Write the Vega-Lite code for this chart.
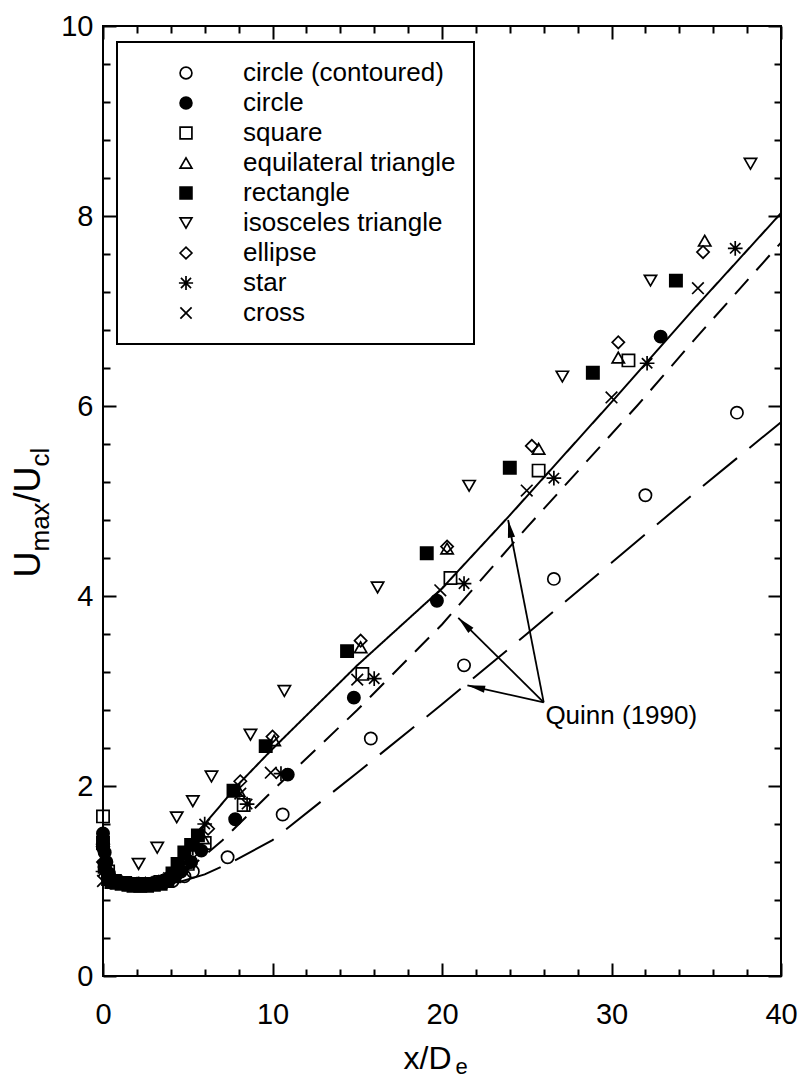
{
  "$schema": "https://vega.github.io/schema/vega-lite/v6.json",
  "width": 678,
  "height": 950,
  "autosize": {"type": "none"},
  "padding": {"left": 103, "top": 26, "right": 25, "bottom": 103},
  "config": {
    "view": {"stroke": "black", "strokeWidth": 2},
    "font": "Liberation Sans",
    "axis": {"domain": false, "grid": false, "labelFont": "Liberation Sans", "labelFontSize": 29, "labelColor": "black", "tickColor": "black", "tickWidth": 2, "titleFont": "Liberation Sans", "titleFontWeight": "normal", "titleColor": "black"},
    "legend": {"strokeWidth": 2}
  },
  "datasets": {
    "curves": [
      {"curve": "solid", "x": 3.0, "y": 0.98}, {"curve": "solid", "x": 4.0, "y": 1.05}, {"curve": "solid", "x": 5.0, "y": 1.27}, {"curve": "solid", "x": 6.0, "y": 1.6}, {"curve": "solid", "x": 8.0, "y": 2.02}, {"curve": "solid", "x": 10.0, "y": 2.39}, {"curve": "solid", "x": 15.0, "y": 3.27}, {"curve": "solid", "x": 20.0, "y": 4.08}, {"curve": "solid", "x": 24.0, "y": 4.85}, {"curve": "solid", "x": 30.1, "y": 6.06}, {"curve": "solid", "x": 35.0, "y": 7.05}, {"curve": "solid", "x": 40.0, "y": 8.03},
      {"curve": "short", "x": 3.0, "y": 0.97}, {"curve": "short", "x": 4.0, "y": 1.02}, {"curve": "short", "x": 5.0, "y": 1.12}, {"curve": "short", "x": 7.0, "y": 1.42}, {"curve": "short", "x": 10.0, "y": 1.95}, {"curve": "short", "x": 15.0, "y": 2.8}, {"curve": "short", "x": 20.0, "y": 3.7}, {"curve": "short", "x": 25.0, "y": 4.72}, {"curve": "short", "x": 31.5, "y": 6.0}, {"curve": "short", "x": 35.0, "y": 6.72}, {"curve": "short", "x": 40.0, "y": 7.72},
      {"curve": "long", "x": 4.5, "y": 0.99}, {"curve": "long", "x": 6.0, "y": 1.07}, {"curve": "long", "x": 7.5, "y": 1.19}, {"curve": "long", "x": 10.0, "y": 1.43}, {"curve": "long", "x": 15.0, "y": 2.14}, {"curve": "long", "x": 20.0, "y": 2.86}, {"curve": "long", "x": 25.0, "y": 3.6}, {"curve": "long", "x": 30.0, "y": 4.35}, {"curve": "long", "x": 35.0, "y": 5.1}, {"curve": "long", "x": 40.0, "y": 5.83}
    ],
    "pts": [
      {"s": "circle (contoured)", "x": 0, "y": 1.35}, {"s": "circle (contoured)", "x": 0.3, "y": 1.05}, {"s": "circle (contoured)", "x": 0.8, "y": 1.0}, {"s": "circle (contoured)", "x": 1.5, "y": 0.98}, {"s": "circle (contoured)", "x": 2.3, "y": 0.97}, {"s": "circle (contoured)", "x": 3.2, "y": 0.98}, {"s": "circle (contoured)", "x": 4.1, "y": 1.0}, {"s": "circle (contoured)", "x": 4.8, "y": 1.05}, {"s": "circle (contoured)", "x": 5.3, "y": 1.1}, {"s": "circle (contoured)", "x": 7.35, "y": 1.25}, {"s": "circle (contoured)", "x": 10.6, "y": 1.7}, {"s": "circle (contoured)", "x": 15.8, "y": 2.5}, {"s": "circle (contoured)", "x": 21.3, "y": 3.27}, {"s": "circle (contoured)", "x": 26.6, "y": 4.18}, {"s": "circle (contoured)", "x": 32.0, "y": 5.06}, {"s": "circle (contoured)", "x": 37.4, "y": 5.93},
      {"s": "circle", "x": 0, "y": 1.5}, {"s": "circle", "x": 0.1, "y": 1.3}, {"s": "circle", "x": 0.2, "y": 1.2}, {"s": "circle", "x": 0.35, "y": 1.08}, {"s": "circle", "x": 0.5, "y": 1.02}, {"s": "circle", "x": 0.7, "y": 1.0}, {"s": "circle", "x": 1.0, "y": 0.99}, {"s": "circle", "x": 1.3, "y": 0.98}, {"s": "circle", "x": 1.6, "y": 0.97}, {"s": "circle", "x": 1.9, "y": 0.96}, {"s": "circle", "x": 2.2, "y": 0.96}, {"s": "circle", "x": 2.5, "y": 0.96}, {"s": "circle", "x": 2.8, "y": 0.97}, {"s": "circle", "x": 3.1, "y": 0.97}, {"s": "circle", "x": 3.4, "y": 0.99}, {"s": "circle", "x": 3.7, "y": 1.0}, {"s": "circle", "x": 4.0, "y": 1.03}, {"s": "circle", "x": 4.3, "y": 1.06}, {"s": "circle", "x": 4.6, "y": 1.1}, {"s": "circle", "x": 5.2, "y": 1.2}, {"s": "circle", "x": 5.8, "y": 1.32}, {"s": "circle", "x": 7.8, "y": 1.65}, {"s": "circle", "x": 10.9, "y": 2.12}, {"s": "circle", "x": 14.8, "y": 2.93}, {"s": "circle", "x": 19.7, "y": 3.95}, {"s": "circle", "x": 32.9, "y": 6.73},
      {"s": "square", "x": 0, "y": 1.68}, {"s": "square", "x": 0.3, "y": 1.1}, {"s": "square", "x": 0.7, "y": 1.0}, {"s": "square", "x": 1.3, "y": 0.98}, {"s": "square", "x": 2.0, "y": 0.97}, {"s": "square", "x": 2.7, "y": 0.97}, {"s": "square", "x": 3.4, "y": 0.99}, {"s": "square", "x": 4.2, "y": 1.05}, {"s": "square", "x": 5.0, "y": 1.18}, {"s": "square", "x": 6.0, "y": 1.4}, {"s": "square", "x": 8.3, "y": 1.8}, {"s": "square", "x": 15.3, "y": 3.18}, {"s": "square", "x": 20.5, "y": 4.19}, {"s": "square", "x": 25.7, "y": 5.32}, {"s": "square", "x": 31.0, "y": 6.48},
      {"s": "equilateral triangle", "x": 0, "y": 1.45}, {"s": "equilateral triangle", "x": 0.4, "y": 1.05}, {"s": "equilateral triangle", "x": 1.0, "y": 0.99}, {"s": "equilateral triangle", "x": 1.7, "y": 0.98}, {"s": "equilateral triangle", "x": 2.5, "y": 0.98}, {"s": "equilateral triangle", "x": 3.3, "y": 1.0}, {"s": "equilateral triangle", "x": 4.1, "y": 1.06}, {"s": "equilateral triangle", "x": 5.0, "y": 1.2}, {"s": "equilateral triangle", "x": 5.9, "y": 1.45}, {"s": "equilateral triangle", "x": 8.0, "y": 1.95}, {"s": "equilateral triangle", "x": 10.1, "y": 2.48}, {"s": "equilateral triangle", "x": 15.2, "y": 3.46}, {"s": "equilateral triangle", "x": 20.3, "y": 4.5}, {"s": "equilateral triangle", "x": 25.7, "y": 5.55}, {"s": "equilateral triangle", "x": 30.4, "y": 6.51}, {"s": "equilateral triangle", "x": 35.5, "y": 7.74},
      {"s": "rectangle", "x": 0, "y": 1.4}, {"s": "rectangle", "x": 0.1, "y": 1.15}, {"s": "rectangle", "x": 0.3, "y": 1.02}, {"s": "rectangle", "x": 0.5, "y": 0.99}, {"s": "rectangle", "x": 0.8, "y": 0.98}, {"s": "rectangle", "x": 1.1, "y": 0.97}, {"s": "rectangle", "x": 1.5, "y": 0.96}, {"s": "rectangle", "x": 1.8, "y": 0.95}, {"s": "rectangle", "x": 2.2, "y": 0.95}, {"s": "rectangle", "x": 2.6, "y": 0.95}, {"s": "rectangle", "x": 3.0, "y": 0.96}, {"s": "rectangle", "x": 3.4, "y": 0.97}, {"s": "rectangle", "x": 3.8, "y": 1.0}, {"s": "rectangle", "x": 4.1, "y": 1.08}, {"s": "rectangle", "x": 4.4, "y": 1.18}, {"s": "rectangle", "x": 4.8, "y": 1.3}, {"s": "rectangle", "x": 5.2, "y": 1.38}, {"s": "rectangle", "x": 5.6, "y": 1.48}, {"s": "rectangle", "x": 7.7, "y": 1.95}, {"s": "rectangle", "x": 9.6, "y": 2.42}, {"s": "rectangle", "x": 14.4, "y": 3.42}, {"s": "rectangle", "x": 19.1, "y": 4.45}, {"s": "rectangle", "x": 24.0, "y": 5.35}, {"s": "rectangle", "x": 28.9, "y": 6.35}, {"s": "rectangle", "x": 33.8, "y": 7.32},
      {"s": "isosceles triangle", "x": 0, "y": 1.3}, {"s": "isosceles triangle", "x": 0.5, "y": 1.0}, {"s": "isosceles triangle", "x": 1.2, "y": 0.98}, {"s": "isosceles triangle", "x": 2.1, "y": 1.18}, {"s": "isosceles triangle", "x": 3.2, "y": 1.35}, {"s": "isosceles triangle", "x": 4.35, "y": 1.67}, {"s": "isosceles triangle", "x": 5.3, "y": 1.84}, {"s": "isosceles triangle", "x": 6.4, "y": 2.1}, {"s": "isosceles triangle", "x": 8.7, "y": 2.54}, {"s": "isosceles triangle", "x": 10.7, "y": 3.0}, {"s": "isosceles triangle", "x": 16.2, "y": 4.09}, {"s": "isosceles triangle", "x": 21.6, "y": 5.16}, {"s": "isosceles triangle", "x": 27.1, "y": 6.31}, {"s": "isosceles triangle", "x": 32.3, "y": 7.32}, {"s": "isosceles triangle", "x": 38.2, "y": 8.55},
      {"s": "ellipse", "x": 0, "y": 1.2}, {"s": "ellipse", "x": 0.4, "y": 1.0}, {"s": "ellipse", "x": 1.1, "y": 0.98}, {"s": "ellipse", "x": 2.0, "y": 0.97}, {"s": "ellipse", "x": 2.9, "y": 0.98}, {"s": "ellipse", "x": 3.7, "y": 1.02}, {"s": "ellipse", "x": 4.5, "y": 1.1}, {"s": "ellipse", "x": 5.3, "y": 1.3}, {"s": "ellipse", "x": 6.2, "y": 1.55}, {"s": "ellipse", "x": 8.1, "y": 2.05}, {"s": "ellipse", "x": 10.0, "y": 2.52}, {"s": "ellipse", "x": 15.2, "y": 3.53}, {"s": "ellipse", "x": 20.3, "y": 4.52}, {"s": "ellipse", "x": 25.3, "y": 5.58}, {"s": "ellipse", "x": 30.4, "y": 6.67}, {"s": "ellipse", "x": 35.4, "y": 7.62},
      {"s": "star", "x": 0, "y": 1.1}, {"s": "star", "x": 0.5, "y": 0.99}, {"s": "star", "x": 1.3, "y": 0.97}, {"s": "star", "x": 2.1, "y": 0.97}, {"s": "star", "x": 3.0, "y": 0.98}, {"s": "star", "x": 3.8, "y": 1.02}, {"s": "star", "x": 4.6, "y": 1.15}, {"s": "star", "x": 5.3, "y": 1.35}, {"s": "star", "x": 6.0, "y": 1.6}, {"s": "star", "x": 8.5, "y": 1.81}, {"s": "star", "x": 10.5, "y": 2.13}, {"s": "star", "x": 16.0, "y": 3.13}, {"s": "star", "x": 21.3, "y": 4.13}, {"s": "star", "x": 26.6, "y": 5.24}, {"s": "star", "x": 32.1, "y": 6.45}, {"s": "star", "x": 37.3, "y": 7.66},
      {"s": "cross", "x": 0, "y": 1.0}, {"s": "cross", "x": 0.6, "y": 0.98}, {"s": "cross", "x": 1.4, "y": 0.97}, {"s": "cross", "x": 2.3, "y": 0.97}, {"s": "cross", "x": 3.1, "y": 0.98}, {"s": "cross", "x": 3.9, "y": 1.03}, {"s": "cross", "x": 4.7, "y": 1.15}, {"s": "cross", "x": 5.6, "y": 1.4}, {"s": "cross", "x": 8.1, "y": 1.92}, {"s": "cross", "x": 9.9, "y": 2.14}, {"s": "cross", "x": 15.0, "y": 3.12}, {"s": "cross", "x": 19.9, "y": 4.06}, {"s": "cross", "x": 25.0, "y": 5.11}, {"s": "cross", "x": 30.0, "y": 6.09}, {"s": "cross", "x": 35.1, "y": 7.24}
    ],
    "arrows": [
      {"x": 26.0, "y": 2.88, "x2": 23.9, "y2": 4.8},
      {"x": 26.0, "y": 2.88, "x2": 20.96, "y2": 3.77},
      {"x": 26.0, "y": 2.88, "x2": 21.5, "y2": 3.06}
    ],
    "notes": [
      {"x": 26.1, "y": 2.74, "label": "Quinn (1990)"}
    ]
  },
  "layer": [
    {
      "data": {"name": "curves"},
      "mark": {"type": "line", "stroke": "black", "strokeWidth": 2},
      "encoding": {
        "x": {"field": "x", "type": "quantitative", "scale": {"domain": [0, 40], "nice": false, "zero": false},
              "axis": {"orient": "bottom", "values": [0, 10, 20, 30, 40], "format": "d", "ticks": false, "labelPadding": 24, "labelFlush": false, "labelOverlap": false,
                       "title": "x/D", "titleFontSize": 32, "titleAlign": "left", "titleBaseline": "alphabetic", "titleX": 300, "titleY": 92}},
        "y": {"field": "y", "type": "quantitative", "scale": {"domain": [0, 10], "nice": false, "zero": false},
              "axis": {"orient": "left", "values": [0, 2, 4, 6, 8, 10], "format": "d", "ticks": false, "labelPadding": 10, "labelOverlap": false,
                       "title": "U", "titleFontSize": 36, "titleAngle": -90, "titleAlign": "left", "titleBaseline": "alphabetic", "titleX": -64, "titleY": 551}},
        "strokeDash": {"field": "curve", "type": "nominal", "scale": {"domain": ["solid", "short", "long"], "range": [[1, 0], [20, 12], [44, 16]]}, "legend": null}
      }
    },
    {
      "data": {"name": "pts"},
      "mark": {"type": "point", "size": 150, "strokeWidth": 1.7, "opacity": 1},
      "encoding": {
        "x": {"field": "x", "type": "quantitative",
              "axis": {"orient": "bottom", "values": [0, 2, 4, 6, 8, 10, 12, 14, 16, 18, 20, 22, 24, 26, 28, 30, 32, 34, 36, 38, 40], "labels": false,
                       "tickSize": {"condition": {"test": "datum.value % 10 === 0", "value": -13}, "value": -7},
                       "title": "e", "titleFontSize": 22, "titleAlign": "left", "titleBaseline": "alphabetic", "titleX": 352, "titleY": 97}},
        "y": {"field": "y", "type": "quantitative",
              "axis": {"orient": "left", "values": [0, 0.4, 0.8, 1.2, 1.6, 2, 2.4, 2.8, 3.2, 3.6, 4, 4.4, 4.8, 5.2, 5.6, 6, 6.4, 6.8, 7.2, 7.6, 8, 8.4, 8.8, 9.2, 9.6, 10], "labels": false,
                       "tickSize": {"condition": {"test": "abs(datum.value - 2 * round(datum.value / 2)) < 0.01", "value": -13}, "value": -7},
                       "title": "max", "titleFontSize": 26, "titleAngle": -90, "titleAlign": "left", "titleBaseline": "alphabetic", "titleX": -55, "titleY": 525}},
        "shape": {"field": "s", "type": "nominal",
                  "scale": {"domain": ["circle (contoured)", "circle", "square", "equilateral triangle", "rectangle", "isosceles triangle", "ellipse", "star", "cross"],
                            "range": ["circle", "circle", "square", "triangle-up", "square", "triangle-down", "diamond", "M0,-1.2L0,1.2M-1.2,0L1.2,0M-0.85,-0.85L0.85,0.85M-0.85,0.85L0.85,-0.85", "M-0.95,-0.95L0.95,0.95M-0.95,0.95L0.95,-0.95"]},
                  "legend": {"title": null, "orient": "none", "legendX": 14, "legendY": 16, "padding": 18, "strokeColor": "black", "fillColor": "white",
                             "symbolSize": 140, "symbolStrokeWidth": 1.7, "symbolOffset": 38, "labelOffset": 44,
                             "labelFontSize": 26, "labelFont": "Liberation Sans", "labelColor": "black", "rowPadding": 4, "labelLimit": 400}},
        "fill": {"field": "s", "type": "nominal",
                 "scale": {"domain": ["circle (contoured)", "circle", "square", "equilateral triangle", "rectangle", "isosceles triangle", "ellipse", "star", "cross"],
                           "range": ["transparent", "black", "transparent", "transparent", "black", "transparent", "transparent", "transparent", "transparent"]},
                 "legend": {"title": null, "orient": "none", "legendX": 14, "legendY": 16, "padding": 18, "strokeColor": "black", "fillColor": "white",
                            "symbolSize": 140, "symbolStrokeWidth": 1.7, "symbolOffset": 38, "labelOffset": 44,
                            "labelFontSize": 26, "labelFont": "Liberation Sans", "labelColor": "black", "rowPadding": 4, "labelLimit": 400}},
        "stroke": {"field": "s", "type": "nominal",
                   "scale": {"domain": ["circle (contoured)", "circle", "square", "equilateral triangle", "rectangle", "isosceles triangle", "ellipse", "star", "cross"],
                             "range": ["black", "black", "black", "black", "black", "black", "black", "black", "black"]},
                   "legend": {"title": null, "orient": "none", "legendX": 14, "legendY": 16, "padding": 18, "strokeColor": "black", "fillColor": "white",
                              "symbolSize": 140, "symbolStrokeWidth": 1.7, "symbolOffset": 38, "labelOffset": 44,
                              "labelFontSize": 26, "labelFont": "Liberation Sans", "labelColor": "black", "rowPadding": 4, "labelLimit": 400}}
      }
    },
    {
      "data": {"name": "arrows"},
      "mark": {"type": "rule", "stroke": "black", "strokeWidth": 1.8},
      "encoding": {
        "x": {"field": "x", "type": "quantitative",
              "axis": {"orient": "top", "values": [0, 2, 4, 6, 8, 10, 12, 14, 16, 18, 20, 22, 24, 26, 28, 30, 32, 34, 36, 38, 40], "labels": false, "title": null,
                       "tickSize": {"condition": {"test": "datum.value % 10 === 0", "value": -13}, "value": -7}}},
        "y": {"field": "y", "type": "quantitative",
              "axis": {"orient": "right", "values": [0, 0.4, 0.8, 1.2, 1.6, 2, 2.4, 2.8, 3.2, 3.6, 4, 4.4, 4.8, 5.2, 5.6, 6, 6.4, 6.8, 7.2, 7.6, 8, 8.4, 8.8, 9.2, 9.6, 10], "labels": false, "title": null,
                       "tickSize": {"condition": {"test": "abs(datum.value - 2 * round(datum.value / 2)) < 0.01", "value": -13}, "value": -7}}},
        "x2": {"field": "x2"},
        "y2": {"field": "y2"}
      }
    },
    {
      "data": {"name": "arrows"},
      "transform": [{"calculate": "atan2((datum.x2 - datum.x) * 16.95, (datum.y2 - datum.y) * 94.93) * 180 / PI", "as": "ang"}],
      "mark": {"type": "point", "shape": "M0,0L0.45,2.2L-0.45,2.2Z", "filled": true, "fill": "black", "strokeWidth": 0, "size": 260, "opacity": 1},
      "encoding": {
        "x": {"field": "x2", "type": "quantitative", "axis": null},
        "y": {"field": "y2", "type": "quantitative",
              "axis": {"orient": "left", "labels": false, "ticks": false, "title": "/U", "titleFontSize": 36, "titleAngle": -90, "titleAlign": "left", "titleBaseline": "alphabetic", "titleX": -64, "titleY": 476}},
        "angle": {"field": "ang", "type": "quantitative", "scale": null}
      }
    },
    {
      "data": {"name": "notes"},
      "mark": {"type": "text", "align": "left", "baseline": "middle", "fontSize": 26, "font": "Liberation Sans", "color": "black"},
      "encoding": {
        "x": {"field": "x", "type": "quantitative", "axis": null},
        "y": {"field": "y", "type": "quantitative",
              "axis": {"orient": "left", "labels": false, "ticks": false, "title": "cl", "titleFontSize": 26, "titleAngle": -90, "titleAlign": "left", "titleBaseline": "alphabetic", "titleX": -55, "titleY": 440}},
        "text": {"field": "label"}
      }
    }
  ],
  "resolve": {"axis": {"x": "independent", "y": "independent"}}
}
